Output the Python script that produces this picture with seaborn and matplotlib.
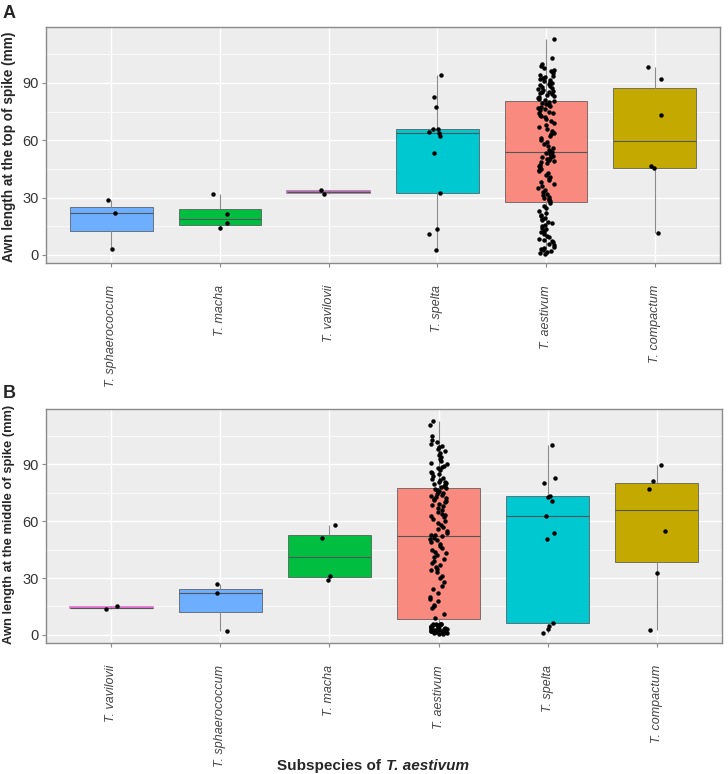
import numpy as np
import pandas as pd
import matplotlib.pyplot as plt
import seaborn as sns

# Valores (comprimento da arista, mm)
# Painel A - topo da espiga
a_sphaerococcum = [3, 22, 28.5]
a_macha = [14, 16.4, 21.6, 32]
a_vavilovii = [31.8, 34.1]
a_spelta = [2.6, 11, 13.5, 32.3, 53.3, 62.4, 63.9, 64.3, 65.9, 65.9, 77.6, 82.4, 94]
a_aestivum = [0.5, 1, 1.5, 2, 2.5, 3, 3.5, 4, 5, 5.5, 6.5, 7, 8, 8.5, 9.5, 10, 11, 12,
              12.5, 13.5, 14, 15, 15.5, 16.5, 17, 18, 19, 19.5, 20.5, 21, 22, 23, 24.5, 25.5, 27,
              28, 28.5, 29, 30, 30.5, 31.5, 32, 33, 34, 35, 36, 37, 38, 39, 40, 41, 42, 43,
              44, 44.5, 45, 46, 46.5, 47, 48, 48.5, 49, 49.5, 50, 50.5, 51, 51.5, 52, 53, 53.5,
              54, 54.5, 55, 56, 57, 58, 59, 60, 61, 62, 63, 64, 65, 66, 67, 68, 69, 70, 71,
              72, 72.5, 73, 74, 74.5, 75, 76, 76.5, 77, 77.5, 78, 78.5, 79, 79.5, 80, 80.5,
              81, 81.5, 82, 82.5, 83, 83.5, 84, 84.5, 85, 85.5, 86, 86.5, 87, 87.5, 88, 88.5,
              89, 89.5, 90, 90.5, 91, 91.5, 92, 92.5, 93, 93.5, 94, 95, 96, 97, 98, 99, 100,
              103, 113]
a_compactum = [11.4, 45.2, 46.3, 73.4, 92, 98.2]

# Painel B - meio da espiga
b_vavilovii = [13.5, 15.2]
b_sphaerococcum = [2.2, 22, 26.7]
b_macha = [28.8, 31.1, 51, 58]
b_aestivum = [0.5, 0.5, 1, 1, 1, 1.5, 1.5, 1.5, 2, 2, 2, 2, 2.5, 2.5, 2.5, 3, 3, 3, 3,
              3.5, 3.5, 3.5, 4, 4, 4, 4.5, 4.5, 5, 5, 5, 5.5, 5.5, 6, 6, 6,
              9, 11, 14, 15, 16, 18, 19, 20, 22, 24, 26, 28, 30, 31, 33, 34, 35, 36, 37,
              38, 39, 40, 41, 42, 43, 44, 45, 46, 47, 48, 49, 50, 50.5, 51, 52,
              52.5, 53, 54, 55, 56, 57, 58, 59, 60, 61, 62, 63, 63.5, 64, 65, 66, 67, 68,
              68.5, 69, 70, 70.5, 71, 72, 72.5, 73, 73.5, 74, 74.5, 75, 75.5, 76, 76.5, 77, 77.5,
              78, 78.5, 79, 79.5, 80, 80.5, 81, 82, 82.5, 83, 84, 85, 85.5, 86, 87, 88, 88.5,
              89, 90, 91, 92, 93, 94, 95, 96, 97, 98, 99, 100, 101, 102, 103, 105, 111, 112.8]
b_spelta = [1.2, 3.3, 4.7, 6.2, 50.4, 53.6, 62.7, 70.6, 72.8, 73.3, 80, 82.8, 100.2]
b_compactum = [2.6, 32.7, 54.8, 77, 81.5, 89.6]

order_a = ['sphaerococcum', 'macha', 'vavilovii', 'spelta', 'aestivum', 'compactum']
order_b = ['vavilovii', 'sphaerococcum', 'macha', 'aestivum', 'spelta', 'compactum']

cores = {'aestivum': '#F98A80', 'compactum': '#C4AA00', 'macha': '#00BF40',
         'spelta': '#00C8D0', 'sphaerococcum': '#6EAEFF', 'vavilovii': '#F564E3'}


def montar_df(dados):
    linhas = []
    for nome, vals in dados.items():
        for v in vals:
            linhas.append({'sub': nome, 'val': v})
    return pd.DataFrame(linhas)


df_a = montar_df({'sphaerococcum': a_sphaerococcum, 'macha': a_macha, 'vavilovii': a_vavilovii,
                  'spelta': a_spelta, 'aestivum': a_aestivum, 'compactum': a_compactum})
df_b = montar_df({'vavilovii': b_vavilovii, 'sphaerococcum': b_sphaerococcum, 'macha': b_macha,
                  'aestivum': b_aestivum, 'spelta': b_spelta, 'compactum': b_compactum})

sns.set_theme(style="white")
plt.rcParams['font.family'] = ['Liberation Sans', 'DejaVu Sans']
np.random.seed(3)

fig = plt.figure(figsize=(7.28, 7.74), dpi=100)
W, H = 728, 774
ax1 = fig.add_axes([46 / W, 1 - 263 / H, (720 - 46) / W, (263 - 27) / H])
ax2 = fig.add_axes([46 / W, 1 - 643 / H, (722 - 46) / W, (643 - 409) / H])


def painel(ax, df, order, cor_vav):
    ax.set_facecolor('#EDEDED')
    sns.boxplot(data=df, x='sub', y='val', order=order, hue='sub', hue_order=order,
                palette=cores, saturation=1, width=0.76, showfliers=False,
                linewidth=0.5, linecolor='#4d4d4d',
                whiskerprops=dict(color='#8a8a8a', linewidth=0.8), capprops=dict(linewidth=0),
                medianprops=dict(color='#555555', linewidth=0.8),
                legend=False, ax=ax)
    # caixa muito fina do vavilovii: borda na cor da caixa
    i = order.index('vavilovii')
    if i < len(ax.patches):
        ax.patches[i].set_edgecolor(cor_vav)
        ax.patches[i].set_linewidth(1.2)
    sns.stripplot(data=df, x='sub', y='val', order=order, color='black', size=3.2,
                  jitter=0.08, ax=ax)
    ax.set_axisbelow(True)
    ax.set_xlim(-0.6, 5.6)
    ax.set_ylim(-4.3, 119.3)
    ax.set_yticks([0, 30, 60, 90])
    ax.set_yticks([15, 45, 75, 105], minor=True)
    ax.grid(which='major', color='white', linewidth=1.0)
    ax.grid(which='minor', axis='y', color='white', linewidth=0.5)
    ax.set_xticks(range(len(order)))
    ax.set_xticklabels(['T. ' + n for n in order], rotation=90, style='italic',
                       fontsize=9, va='top', ha='center', color='#444444')
    ax.tick_params(axis='y', labelsize=10.5, labelcolor='#333333', length=3,
                   color='#8a8a8a', width=0.8, left=True, pad=2)
    ax.tick_params(axis='x', length=3, color='#8a8a8a', width=0.8, bottom=True, pad=13)
    ax.tick_params(which='minor', length=0)
    ax.set_xlabel('')
    ax.set_ylabel('')
    for s in ax.spines.values():
        s.set_color('#8a8a8a')
        s.set_linewidth(1.0)


painel(ax1, df_a, order_a, '#A878A8')
painel(ax2, df_b, order_b, '#E070D0')

fig.text(9 / W, 1 - 147 / H, 'Awn length at the top of spike (mm)', rotation=90,
         ha='center', va='center', fontsize=9.8, weight='bold')
fig.text(9 / W, 1 - 524 / H, 'Awn length at the middle of spike (mm)', rotation=90,
         ha='center', va='center', fontsize=9.3, weight='bold')

fig.text(3 / W, 1 - 5 / H, 'A', ha='left', va='top', fontsize=13, weight='bold')
fig.text(3 / W, 1 - 385 / H, 'B', ha='left', va='top', fontsize=13, weight='bold')

# rótulo do eixo x com parte em itálico
y_lab = 1 - 770 / H
t1 = fig.text(277 / W, y_lab, 'Subspecies of ', ha='left', va='baseline',
              fontsize=11, weight='bold')
fig.canvas.draw()
bb = t1.get_window_extent()
fig.text(bb.x1 / W + 1 / W, y_lab, 'T. aestivum', ha='left', va='baseline',
         fontsize=11, weight='bold', style='italic')

fig.savefig('out.png', dpi=100)
